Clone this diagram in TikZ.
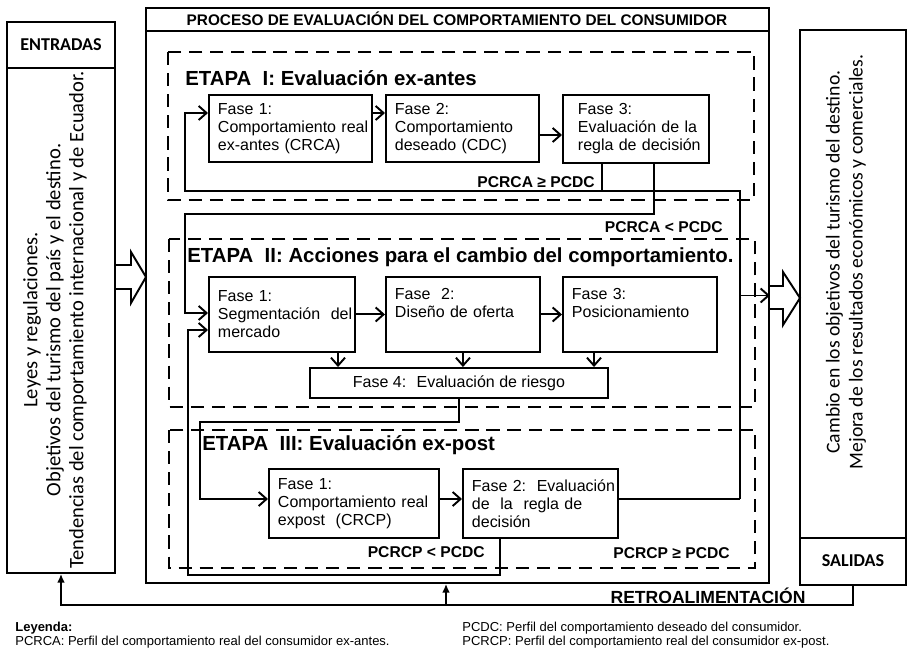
\documentclass[tikz,border=0pt]{standalone}
\usepackage{fontspec}
\setmainfont{Liberation Sans}
\newfontfamily\carlito{Carlito}
\usepackage{tikz}
\usetikzlibrary{positioning,calc}
\usetikzlibrary{arrows.meta}
\hyphenpenalty=10000
\exhyphenpenalty=10000
\tikzstyle{arrow} = [line width=1.1pt,-{Straight Barb[length=4.5pt,width=8pt]}]
\tikzstyle{fbarrow} = [line width=1.1pt,-{Latex[length=5pt,width=4.5pt]}]
\tikzstyle{conector} = [line width=1.1pt]
\tikzstyle{caja} = [draw,line width=1.1pt,inner sep=0pt]
\tikzstyle{etapa} = [line width=1.6pt,dash pattern=on 7.5pt off 4.5pt]
\tikzstyle{fase} = [draw,line width=1.1pt,anchor=north west,align=left,inner xsep=0.18cm,font=\fontsize{9.1}{10.3}\selectfont]
\tikzstyle{titulo} = [anchor=west,inner sep=0pt,font=\fontsize{11.6}{13}\selectfont\bfseries]
\tikzstyle{cond} = [anchor=east,inner sep=0pt,font=\fontsize{8.9}{10}\selectfont\bfseries]
\tikzstyle{lado} = [rotate=90,align=center]
\tikzstyle{cabeza} = [font=\carlito\fontsize{10.3}{12}\selectfont\bfseries]

\begin{document}
\begin{tikzpicture}[x=0.02cm,y=-0.02cm]
							\useasboundingbox (0,0) rectangle (909,648);
							\node[caja,minimum width=2.16cm,minimum height=11.02cm] (entradas) at (61,297.5) {};
							\draw[conector] (7,68) -- (115,68);
							\node[cabeza] (entr) at (61,45) {ENTRADAS};
							\node[lado,font=\carlito\fontsize{11.7}{13.1}\selectfont] (leyes) at (55,320) {Leyes y regulaciones.\\Objetivos del turismo del país y el destino.\\Tendencias del comportamiento internacional y de Ecuador.};
							\node[caja,minimum width=12.46cm,minimum height=11.5cm] (proceso) at (457.5,295.5) {};
							\draw[conector] (146,31) -- (769,31);
							\node[font=\fontsize{8.75}{10}\selectfont\bfseries] (titproc) at (457,19) {PROCESO DE EVALUACIÓN DEL COMPORTAMIENTO DEL CONSUMIDOR};
							\node[caja,minimum width=2.12cm,minimum height=11.1cm] (salidas) at (853,307.5) {};
							\draw[conector] (800,538) -- (906,538);
							\node[cabeza] (sal) at (853,561) {SALIDAS};
							\node[lado,font=\carlito\fontsize{11.2}{13.1}\selectfont] (cambio) at (846,262) {Cambio en los objetivos del turismo del destino.\\Mejora de los resultados económicos y comerciales.};
							\draw[conector] (115,265) -- (131,265) -- (131,252) -- (146,277) -- (131,303) -- (131,289) -- (115,289);
							\draw[conector] (769,286) -- (783,286) -- (783,272) -- (800,298) -- (783,325) -- (783,309) -- (769,309);
							\draw[etapa] (168,52) rectangle (754,200);
							\draw[etapa] (169,239) rectangle (755,407);
							\draw[etapa] (169,430) rectangle (755,568);
							\node[titulo] (et1) at (185,78) {ETAPA~ I: Evaluación ex-antes};
							\node[titulo] (et2) at (187,257) {ETAPA~ II: Acciones para el cambio del comportamiento.};
							\node[titulo] (et3) at (202,445) {ETAPA~ III: Evaluación ex-post};
							\node[fase,text width=2.90cm,minimum height=1.34cm] (f11) at (208,94) {Fase~1:\\Comportamiento~real\\ex-antes~(CRCA)};
							\node[fase,text width=2.70cm,minimum height=1.34cm] (f12) at (385,94) {Fase~2:\\Comportamiento\\deseado~(CDC)};
							\node[fase,text width=2.32cm,minimum height=1.36cm,inner xsep=0.3cm] (f13) at (562,94) {Fase~3:\\Evaluación~de~la\\regla~de~decisión};
							\node[fase,text width=2.56cm,minimum height=1.5cm] (f21) at (208,276) {Fase~1:\\Segmentación~~del\\mercado};
							\node[fase,text width=2.72cm,minimum height=1.5cm] (f22) at (385,276) {Fase~~2:\\Diseño~de~oferta\\\strut};
							\node[fase,text width=2.72cm,minimum height=1.5cm] (f23) at (562,276) {Fase~3:\\Posicionamiento\\\strut};
							\node[caja,minimum width=5.96cm,minimum height=0.6cm,font=\fontsize{9.1}{10.3}\selectfont] (f24) at (459,383) {Fase 4:~ Evaluación de riesgo};
							\node[fase,text width=3.04cm,minimum height=1.38cm] (f31) at (268,468) {Fase~1:\\Comportamiento~real\\expost~~(CRCP)};
							\node[fase,text width=2.74cm,minimum height=1.38cm] (f32) at (462,468) {Fase~2:~~Evaluación\\de~~la~~regla~de\\decisión};
							\node[cond] (c1) at (595,182) {PCRCA ≥ PCDC};
							\node[cond] (c2) at (723,227) {PCRCA < PCDC};
							\node[cond] (c3) at (485,552) {PCRCP < PCDC};
							\node[cond] (c4) at (730,553) {PCRCP ≥ PCDC};
							\coordinate (p1) at (185,113);
							\coordinate (p2) at (602,191);
							\coordinate (p3) at (740,499);
							\coordinate (p4) at (654,214);
							\coordinate (p5) at (185,313);
							\coordinate (p6) at (188,330);
							\coordinate (p7) at (459,422);
							\coordinate (p8) at (200,499);
							\coordinate (p9) at (500,575);
							\coordinate (r1) at (0,113);
							\coordinate (r2) at (0,135);
							\coordinate (d1) at (338,0);
							\coordinate (d3) at (594,0);
							\draw[arrow] (f11.east |- r1) -- (f12.west |- r1);
							\draw[arrow] (f12.east |- r2) -- (f13.west |- r2);
							\draw[arrow] (f13.south -| p2) -- (p2) -| (p1) -- (f11.west |- p1);
							\draw[conector] (p2) -| (p3);
							\draw[arrow] (p3 |- proceso.east) -- (proceso.east);
							\draw[arrow] (f13.south -| p4) -- (p4) -| (p5) -- (f21.west |- p5);
							\draw[arrow] (f21.east) -- (f22.west);
							\draw[arrow] (f22.east) -- (f23.west);
							\draw[arrow] (f21.south -| d1) -- (f24.north -| d1);
							\draw[arrow] (f22.south) -- (f24.north -| f22.south);
							\draw[arrow] (f23.south -| d3) -- (f24.north -| d3);
							\draw[arrow] (f24.south) -- (p7) -| (p8) -- (f31.west |- p8);
							\draw[arrow] (f31.east |- p8) -- (f32.west |- p8);
							\draw[conector] (f32.east |- p8) -- (p3);
							\draw[arrow] (f32.south -| p9) -- (p9) -| (p6) -- (f21.west |- p6);
							\coordinate (fb) at (446,605);
							\draw[fbarrow] (salidas.south) -- (salidas.south |- fb) -| (entradas.south);
							\draw[fbarrow] (fb) -- (fb |- proceso.south);
							\node[anchor=base,inner sep=0pt,font=\fontsize{10}{12}\selectfont\bfseries] (retro) at (708,603) {RETROALIMENTACIÓN};
							\node[anchor=north west,align=left,inner sep=0pt,font=\fontsize{7.4}{8}\selectfont] (leyenda) at (15,622) {\textbf{Leyenda:}\\PCRCA: Perfil del comportamiento real del consumidor ex-antes.};
							\node[anchor=north west,align=left,inner sep=0pt,font=\fontsize{7.4}{8}\selectfont] (leyenda2) at (462,622) {PCDC: Perfil del comportamiento deseado del consumidor.\\PCRCP: Perfil del comportamiento real del consumidor ex-post.};
						\end{tikzpicture}
\end{document}
